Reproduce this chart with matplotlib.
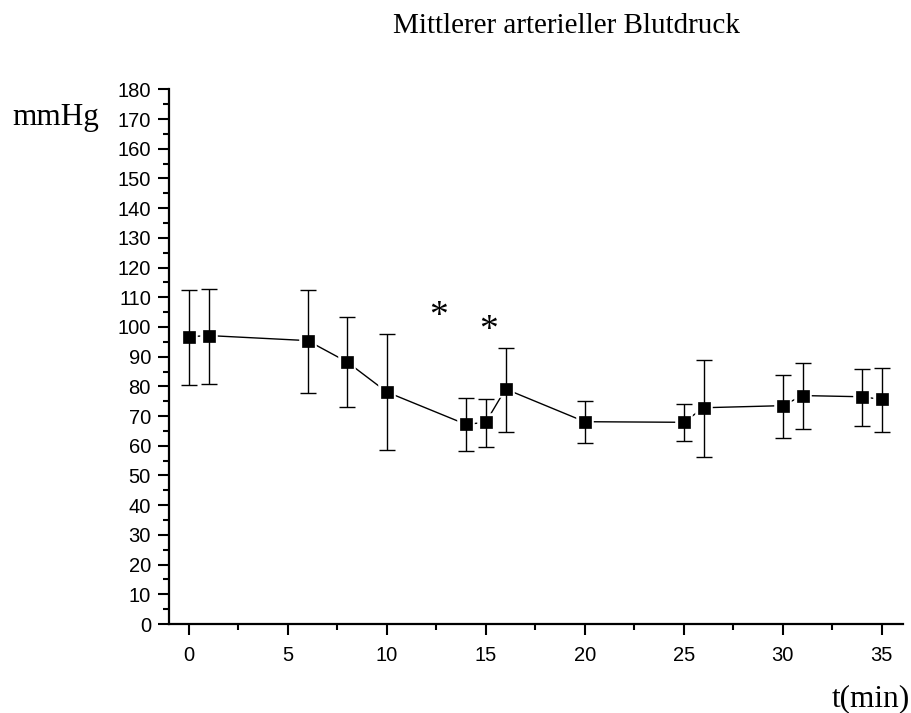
import matplotlib
matplotlib.use("Agg")
import matplotlib.pyplot as plt
from matplotlib.ticker import MultipleLocator
import numpy as np

# Data
t_min = [0, 1, 6, 8, 10, 14, 15, 16, 20, 25, 26, 30, 31, 34, 35]
mean_mmhg = [96.7, 97.1, 95.4, 88.2, 78.1, 67.2, 67.9, 79.1, 68.1, 67.9, 72.8, 73.5, 76.9, 76.5, 75.6]
err_upper = [112.6, 112.8, 112.6, 103.3, 97.5, 76.0, 75.7, 92.8, 75.0, 73.9, 88.9, 83.9, 87.8, 85.8, 86.2]
err_lower = [80.4, 80.9, 77.7, 72.9, 58.5, 58.1, 59.7, 64.8, 60.8, 61.6, 56.2, 62.7, 65.5, 66.8, 64.8]
star_x = [12.62, 15.15]
star_y = [106.2, 101.5]

title = "Mittlerer arterieller Blutdruck"
ylabel = "mmHg"
xlabel = "t(min)"

serif = ["Liberation Serif", "DejaVu Serif"]
sans = ["Liberation Sans", "DejaVu Sans"]

fig = plt.figure(figsize=(9.12, 7.13), dpi=100)
ax = fig.add_axes([169/912, 1-624/713, (902.7-169)/912, (624-89.3)/713])

x = np.array(t_min)
y = np.array(mean_mmhg)
yerr = np.array([y - np.array(err_lower), np.array(err_upper) - y])

ax.plot(x, y, color="black", lw=1.0, zorder=1)
# white halo to create gaps between line and markers
ax.plot(x, y, linestyle="none", marker="s", markersize=8.3, markerfacecolor="black",
        markeredgecolor="white", markeredgewidth=4, zorder=2)
ax.errorbar(x, y, yerr=yerr, fmt="none", ecolor="black", elinewidth=1.0,
            capsize=5.5, capthick=1.0, zorder=3)
ax.plot(x, y, linestyle="none", marker="s", markersize=8.3, markerfacecolor="black",
        markeredgecolor="black", markeredgewidth=0.5, zorder=4)

for sx, sy in zip(star_x, star_y):
    ax.annotate("*", xy=(sx, sy), xytext=(0, -6.0), textcoords="offset points",
                family=serif, fontsize=27, ha="center", va="center")

ax.set_xlim(-1, 36.06)
ax.set_ylim(0, 180)
ax.xaxis.set_major_locator(MultipleLocator(5))
ax.xaxis.set_minor_locator(MultipleLocator(2.5))
ax.yaxis.set_major_locator(MultipleLocator(10))
ax.yaxis.set_minor_locator(MultipleLocator(5))

for s in ["top", "right"]:
    ax.spines[s].set_visible(False)
for s in ["left", "bottom"]:
    ax.spines[s].set_linewidth(1.6)

ax.tick_params(which="major", direction="out", length=8, width=1.5, labelsize=14.5)
ax.tick_params(which="minor", direction="out", length=4.5, width=1.5)
ax.tick_params(axis="y", which="major", pad=5)
ax.tick_params(axis="x", which="major", pad=8)
for lab in ax.get_xticklabels() + ax.get_yticklabels():
    lab.set_family(sans)

fig.text(566/912, 1-33.3/713, title, family=serif, fontsize=21, ha="center", va="baseline")
fig.text(55.3/912, 1-125/713, ylabel, family=serif, fontsize=22.5, ha="center", va="baseline")
fig.text(910/912, 1-706/713, xlabel, family=serif, fontsize=22.5, ha="right", va="baseline")

fig.savefig("out.png", dpi=100)
